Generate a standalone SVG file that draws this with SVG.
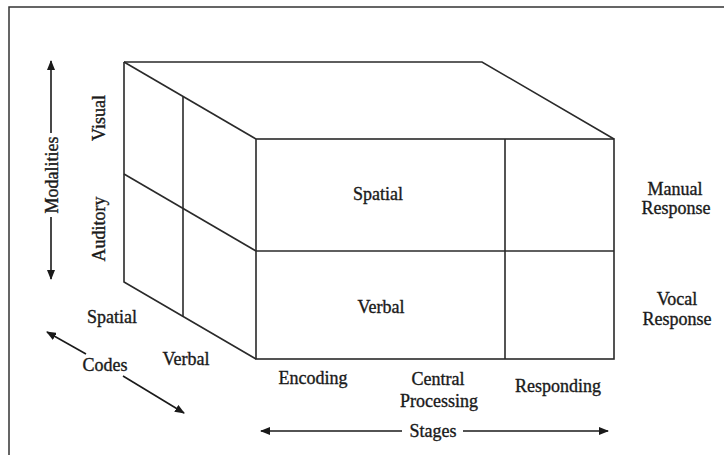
<svg xmlns="http://www.w3.org/2000/svg" width="724" height="455" viewBox="0 0 724 455">
  <style>
    .edge { fill: none; stroke: #2a2a2a; stroke-width: 1.6; stroke-linejoin: miter; }
    .frame { fill: none; stroke: #333; stroke-width: 1.5; }
    .axis { fill: none; stroke: #1a1a1a; stroke-width: 1.6; }
    text { font-family: "Liberation Serif", "Times New Roman", serif; font-size: 18px; fill: #1a1a1a; stroke: #1a1a1a; stroke-width: 0.35; }
    .c { text-anchor: middle; }
  </style>
  <defs>
    <marker id="head" viewBox="0 0 10 8" refX="9" refY="4" markerWidth="10" markerHeight="8" markerUnits="userSpaceOnUse" orient="auto">
      <path d="M0,0 L10,4 L0,8 Z" fill="#1a1a1a"/>
    </marker>
  </defs>

  <rect width="724" height="455" fill="#fff"/>
  <rect class="frame" x="9" y="7" width="740" height="470"/>

  <!-- the block: top face, left face and front face -->
  <g id="block">
    <path class="edge" d="M124,62 L482,62 L614,139"/>
    <path class="edge" d="M124,62 L256,139"/>
    <rect class="edge" x="256" y="139" width="358" height="220"/>
    <path class="edge" d="M124,62 L124,282 L256,359"/>
    <!-- left face: codes divider and modality divider -->
    <path class="edge" d="M183,96.4 L183,316.4"/>
    <path class="edge" d="M124,174 L256,251"/>
    <!-- front face: modality divider and stage divider -->
    <path class="edge" d="M256,251 L614,251"/>
    <path class="edge" d="M505,139 L505,359"/>
  </g>

  <g id="cells">
    <text class="c" x="378" y="200">Spatial</text>
    <text class="c" x="381" y="313">Verbal</text>
  </g>

  <g id="responses">
    <text class="c" x="675" y="195">Manual</text>
    <text class="c" x="676" y="214">Response</text>
    <text class="c" x="677" y="305">Vocal</text>
    <text class="c" x="677" y="325">Response</text>
  </g>

  <g id="stages-labels">
    <text class="c" x="313" y="384">Encoding</text>
    <text class="c" x="438" y="385">Central</text>
    <text class="c" x="439" y="407">Processing</text>
    <text class="c" x="558" y="392">Responding</text>
  </g>

  <g id="modality-labels">
    <text class="c" transform="translate(105,118) rotate(-90)">Visual</text>
    <text class="c" transform="translate(105,229) rotate(-90)">Auditory</text>
  </g>

  <g id="code-labels">
    <text class="c" x="112" y="323">Spatial</text>
    <text class="c" x="186" y="365">Verbal</text>
  </g>

  <!-- axis arrows with their titles -->
  <g id="connectors">
    <path class="axis" d="M51,133 L51,61" marker-end="url(#head)"/>
    <path class="axis" d="M51,217 L51,279" marker-end="url(#head)"/>
    <path class="axis" d="M86,354 L47,332" marker-end="url(#head)"/>
    <path class="axis" d="M123,376 L184,413" marker-end="url(#head)"/>
    <path class="axis" d="M402,431 L261,431" marker-end="url(#head)"/>
    <path class="axis" d="M463,431 L608,431" marker-end="url(#head)"/>
  </g>

  <g id="axis-titles">
    <text class="c" transform="translate(58,175) rotate(-90)">Modalities</text>
    <text class="c" x="105" y="371">Codes</text>
    <text class="c" x="433" y="437">Stages</text>
  </g>
</svg>
